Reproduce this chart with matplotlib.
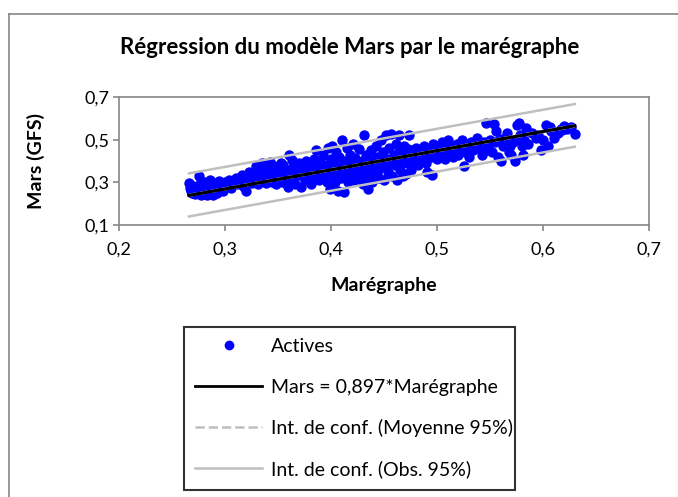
import matplotlib
matplotlib.use("Agg")
import matplotlib.pyplot as plt
from matplotlib.lines import Line2D
import numpy as np

plt.rcParams['font.family'] = ['Lato', 'DejaVu Sans']

# Observations (Marégraphe, Mars GFS)
maregraphe = [
    0.266, 0.267, 0.268, 0.269, 0.270, 0.271, 0.272, 0.273, 0.274, 0.275, 0.276, 0.277,
    0.278, 0.279, 0.280, 0.281, 0.282, 0.283, 0.284, 0.285, 0.286, 0.287, 0.288, 0.289,
    0.290, 0.291, 0.292, 0.293, 0.294, 0.295, 0.297, 0.298, 0.300,
    0.302, 0.304, 0.306, 0.308, 0.310, 0.312, 0.314, 0.316, 0.318, 0.320, 0.321, 0.323,
    0.325, 0.326, 0.328, 0.330, 0.331, 0.333, 0.335, 0.336, 0.338, 0.339, 0.340, 0.341,
    0.343, 0.344, 0.346, 0.347, 0.348, 0.350, 0.351, 0.352,
    0.354, 0.355, 0.356, 0.358, 0.359, 0.360, 0.361, 0.362, 0.364, 0.365, 0.366, 0.368,
    0.370, 0.371, 0.372, 0.374, 0.375, 0.376, 0.378, 0.379, 0.380, 0.381, 0.382, 0.384,
    0.385, 0.386, 0.388, 0.389, 0.390, 0.391, 0.392, 0.393, 0.395, 0.396, 0.397, 0.398,
    0.399, 0.400, 0.401, 0.402,
    0.403, 0.404, 0.405, 0.406, 0.407, 0.408, 0.409, 0.410, 0.411, 0.412, 0.413, 0.414,
    0.415, 0.416, 0.417, 0.418, 0.419, 0.420, 0.421, 0.422, 0.423, 0.424, 0.425, 0.426,
    0.427, 0.428, 0.429, 0.430, 0.431, 0.432, 0.433, 0.434, 0.435, 0.436, 0.437, 0.438,
    0.439, 0.440, 0.441, 0.442, 0.443, 0.444, 0.445, 0.446, 0.447, 0.448, 0.449, 0.450,
    0.451, 0.452, 0.453, 0.454, 0.455, 0.456, 0.457, 0.458, 0.459, 0.460, 0.461, 0.462,
    0.463, 0.464, 0.465, 0.466, 0.467, 0.468, 0.469, 0.470, 0.471, 0.472, 0.473, 0.474,
    0.475, 0.476, 0.478, 0.480, 0.482, 0.484, 0.486, 0.488, 0.490, 0.491, 0.492, 0.494,
    0.495, 0.496, 0.498, 0.500,
    0.502, 0.504, 0.505, 0.507, 0.508, 0.510, 0.512, 0.514, 0.515, 0.517, 0.519, 0.520,
    0.522, 0.524, 0.525, 0.526, 0.528, 0.530, 0.532, 0.534, 0.536, 0.538, 0.540, 0.542,
    0.544, 0.546, 0.547, 0.548, 0.550,
    0.552, 0.554, 0.555, 0.556, 0.558, 0.560, 0.562, 0.564, 0.566, 0.568, 0.570, 0.572,
    0.574, 0.575, 0.577, 0.578, 0.580, 0.581, 0.582, 0.584, 0.586, 0.590, 0.595, 0.598,
    0.600, 0.603, 0.605, 0.607, 0.610, 0.614, 0.617, 0.620, 0.623, 0.626, 0.630,
    # additional observations filling the central band
    0.278, 0.288, 0.296, 0.309, 0.317, 0.327, 0.337, 0.349, 0.357, 0.367, 0.377, 0.387,
    0.394, 0.404, 0.414, 0.424, 0.434, 0.444, 0.454, 0.464, 0.477, 0.487, 0.497, 0.509,
    0.518, 0.529, 0.539, 0.549, 0.559, 0.569, 0.579, 0.593, 0.608, 0.618,
    0.329, 0.342, 0.353, 0.363,
]
mars = [
    0.295, 0.275, 0.260, 0.250, 0.285, 0.265, 0.245, 0.270, 0.255, 0.330, 0.290, 0.240,
    0.275, 0.260, 0.250, 0.300, 0.270, 0.240, 0.285, 0.260, 0.310, 0.250, 0.275, 0.240,
    0.295, 0.265, 0.250, 0.280, 0.305, 0.270, 0.290, 0.260, 0.300,
    0.285, 0.310, 0.275, 0.300, 0.320, 0.290, 0.305, 0.335, 0.280, 0.260, 0.310, 0.350,
    0.295, 0.330, 0.315, 0.360, 0.290, 0.340, 0.390, 0.310, 0.370, 0.295, 0.350, 0.325,
    0.385, 0.300, 0.360, 0.340, 0.290, 0.375, 0.315, 0.345,
    0.300, 0.380, 0.330, 0.360, 0.280, 0.430, 0.345, 0.310, 0.370, 0.325, 0.290, 0.355,
    0.390, 0.335, 0.280, 0.370, 0.310, 0.400, 0.345, 0.320, 0.385, 0.290, 0.360, 0.410,
    0.335, 0.450, 0.370, 0.310, 0.395, 0.350, 0.430, 0.325, 0.380, 0.300, 0.460, 0.360,
    0.270, 0.410, 0.470, 0.340,
    0.390, 0.300, 0.440, 0.355, 0.260, 0.420, 0.320, 0.500, 0.375, 0.255, 0.400, 0.340,
    0.460, 0.300, 0.385, 0.430, 0.330, 0.360, 0.480, 0.310, 0.415, 0.350, 0.390, 0.455,
    0.320, 0.370, 0.400, 0.290, 0.520, 0.350, 0.430, 0.330, 0.270, 0.410, 0.370, 0.450,
    0.300, 0.390, 0.345, 0.470, 0.420, 0.360, 0.320, 0.400, 0.500, 0.380, 0.440, 0.310,
    0.370, 0.520, 0.410, 0.350, 0.460, 0.390, 0.525, 0.330, 0.430, 0.380, 0.480, 0.310,
    0.410, 0.520, 0.360, 0.450, 0.400, 0.330, 0.470, 0.420, 0.340, 0.390, 0.455, 0.520,
    0.360, 0.430, 0.400, 0.460, 0.380, 0.440, 0.410, 0.470, 0.390, 0.350, 0.450, 0.420,
    0.335, 0.480, 0.440, 0.410,
    0.470, 0.430, 0.490, 0.450, 0.410, 0.500, 0.440, 0.470, 0.420, 0.450, 0.480, 0.430,
    0.460, 0.500, 0.375, 0.440, 0.470, 0.420, 0.490, 0.450, 0.480, 0.510, 0.460, 0.430,
    0.490, 0.580, 0.450, 0.470, 0.500,
    0.440, 0.575, 0.490, 0.540, 0.420, 0.400, 0.470, 0.510, 0.530, 0.440, 0.430, 0.490,
    0.400, 0.570, 0.580, 0.520, 0.470, 0.430, 0.500, 0.555, 0.480, 0.530, 0.520, 0.450,
    0.500, 0.570, 0.470, 0.560, 0.510, 0.530, 0.550, 0.565, 0.550, 0.560, 0.525,
    0.255, 0.265, 0.280, 0.295, 0.300, 0.320, 0.325, 0.330, 0.345, 0.350, 0.335, 0.380,
    0.365, 0.375, 0.390, 0.375, 0.400, 0.410, 0.395, 0.440, 0.450, 0.430, 0.460, 0.465,
    0.455, 0.480, 0.470, 0.485, 0.505, 0.470, 0.500, 0.510, 0.540, 0.545,
    0.375, 0.395, 0.390, 0.405,
]

# Regression through the origin
slope = 0.897
x_fit = [0.266, 0.630]

# Confidence bands (endpoints)
ci_mean_low = [0.236, 0.561]
ci_mean_high = [0.242, 0.569]
ci_obs_low = [0.140, 0.467]
ci_obs_high = [0.342, 0.667]

x_ticks = [0.2, 0.3, 0.4, 0.5, 0.6, 0.7]
y_ticks = [0.1, 0.3, 0.5, 0.7]

W, H = 678, 497
fig = plt.figure(figsize=(W / 100, H / 100), dpi=100)

spine_grey = '#868686'
band_grey = '#BFBFBF'

# Outer chart frame
fig.add_artist(Line2D([9 / W, 1.0], [1 - 14 / H, 1 - 14 / H], color=spine_grey, lw=1.2))
fig.add_artist(Line2D([9 / W, 9 / W], [0.0, 1 - 14 / H], color=spine_grey, lw=1.2))

ax = fig.add_axes([119 / W, 1 - 225 / H, (649 - 119) / W, (225 - 97) / H])

ax.scatter(maregraphe, mars, s=56, color='#0000FF', zorder=3, linewidths=0)
x_arr = np.array(x_fit)
ax.plot(x_fit, ci_mean_low, color=band_grey, lw=1.5, ls='--', zorder=4)
ax.plot(x_fit, ci_mean_high, color=band_grey, lw=1.5, ls='--', zorder=4)
ax.plot(x_fit, ci_obs_low, color=band_grey, lw=1.8, zorder=4)
ax.plot(x_fit, ci_obs_high, color=band_grey, lw=1.8, zorder=4)
ax.plot(x_fit, slope * x_arr, color='black', lw=2.3, zorder=5)

ax.set_xlim(0.2, 0.7)
ax.set_ylim(0.1, 0.7)
ax.set_xticks(x_ticks)
ax.set_yticks(y_ticks)
ax.set_xticklabels([f"{v:.1f}".replace('.', ',') for v in x_ticks])
ax.set_yticklabels([f"{v:.1f}".replace('.', ',') for v in y_ticks])
for sp in ax.spines.values():
    sp.set_color(spine_grey)
    sp.set_linewidth(1.2)
ax.tick_params(direction='out', length=4, width=1.2, color=spine_grey,
               labelsize=13, labelcolor='black')
ax.tick_params(axis='x', pad=8)
ax.tick_params(axis='y', pad=3)

ax.set_xlabel('Marégraphe', fontsize=14, fontweight='bold', labelpad=14)
ax.set_ylabel('Mars (GFS)', fontsize=14, fontweight='bold', labelpad=28)

fig.text(350 / W, 1 - 48 / H, 'Régression du modèle Mars par le marégraphe',
         ha='center', va='center', fontsize=16, fontweight='bold')

handles = [
    Line2D([], [], ls='none', marker='o', markersize=7, color='#0000FF', markeredgewidth=0),
    Line2D([], [], color='black', lw=2.0),
    Line2D([], [], color=band_grey, lw=1.8, ls='--'),
    Line2D([], [], color=band_grey, lw=1.8),
]
labels = ['Actives', 'Mars = 0,897*Marégraphe', 'Int. de conf. (Moyenne 95%)',
          'Int. de conf. (Obs. 95%)']
leg = fig.legend(handles, labels, loc='upper left',
                 bbox_to_anchor=(184 / W, 1 - 327 / H, (515 - 184) / W, 0.0),
                 mode='expand', borderaxespad=0, fontsize=14,
                 handlelength=3.45, handletextpad=0.46, labelspacing=1.2,
                 borderpad=0.58, frameon=True, fancybox=False)
leg.get_frame().set_edgecolor('black')
leg.get_frame().set_linewidth(1.5)

fig.savefig('out.png', dpi=100)
